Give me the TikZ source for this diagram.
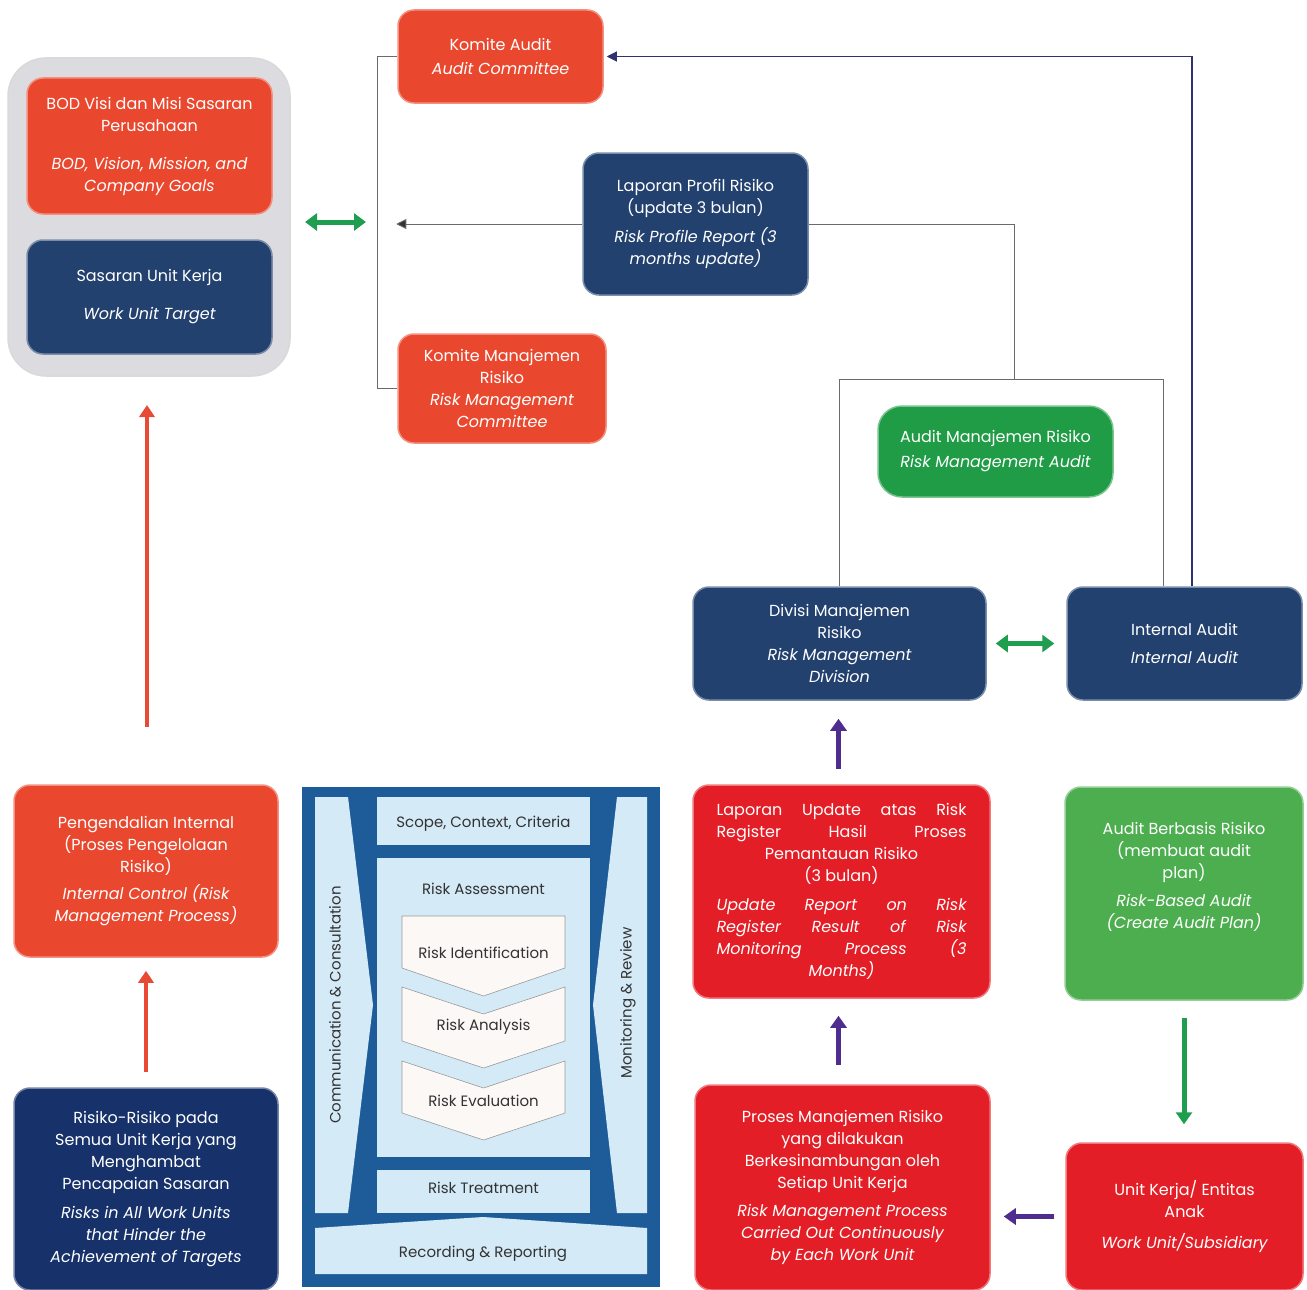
\documentclass[tikz,border=0pt]{standalone}
\usepackage{fontspec}
\setmainfont{Poppins}
\usetikzlibrary{arrows.meta,calc}
\definecolor{orng}{HTML}{E9482F}
\definecolor{brred}{HTML}{E41E26}
\definecolor{dblue}{HTML}{22416F}
\definecolor{navybox}{HTML}{17326A}
\definecolor{dgreen}{HTML}{1F9C45}
\definecolor{lgreen}{HTML}{4DAE50}
\definecolor{isoblue}{HTML}{1E5C99}
\definecolor{isolight}{HTML}{D4EAF7}
\definecolor{chevfill}{HTML}{FCF8F6}
\definecolor{purp}{HTML}{4F2D8F}
\definecolor{garrow}{HTML}{1E9E4E}
\definecolor{rarrow}{HTML}{E84A35}
\definecolor{navyline}{HTML}{303170}
\definecolor{conngray}{HTML}{6B6B6B}
\definecolor{greybg}{HTML}{DCDCE0}
\definecolor{isotxt}{HTML}{333333}
\newcommand{\engl}[1]{{\itshape #1}}
\begin{document}
\begin{tikzpicture}[x=1pt,y=-1pt,
  box/.style={rectangle, rounded corners=16pt, fill=#1, draw=#1!60!white, line width=1.5pt,
    text=white, align=center, inner sep=0pt, font=\fontsize{16}{22}\selectfont},
  conn/.style={draw=conngray, line width=0.9pt},
  navyarr/.style={draw=navyline, line width=1.1pt, -{Triangle[width=10pt,length=10pt]}},
  grayarr/.style={draw=conngray, line width=0.9pt, -{Triangle[width=10pt,length=10pt,fill=isotxt]}},
  dblarr/.style={draw=garrow, line width=5pt, {Triangle[width=17pt,length=12pt]}-{Triangle[width=17pt,length=12pt]}},
  redarr/.style={draw=rarrow, line width=4.5pt, -{Triangle[width=15pt,length=12pt]}},
  purarr/.style={draw=purp, line width=5pt, -{Triangle[width=16pt,length=12pt]}},
  grnarr/.style={draw=garrow, line width=5pt, -{Triangle[width=16pt,length=12pt]}},
  isotext/.style={text=isotxt, font=\fontsize{15}{17}\selectfont, inner sep=0pt},
  isoside/.style={text=isotxt, font=\fontsize{15}{17}\selectfont, inner sep=0pt, rotate=90},
  chev/.style={fill=chevfill, draw=gray!80, line width=0.6pt}
]
\useasboundingbox (0,0) rectangle (1307,1290);

% ---------- top-left group ----------
\node[rectangle, rounded corners=38pt, fill=greybg, draw=gray!30, line width=1.5pt,
  minimum width=282pt, minimum height=318pt] (bodgroup) at (149,217) {};
\node[box=orng, minimum width=245pt, minimum height=136pt] (bod) at (149.5,146)
  {BOD Visi dan Misi Sasaran\\Perusahaan\\[16pt]\engl{BOD, Vision, Mission, and}\\\engl{Company Goals}};
\node[box=dblue, minimum width=245pt, minimum height=114pt] (sasaran) at (149.5,297)
  {Sasaran Unit Kerja\\[16pt]\engl{Work Unit Target}};

% ---------- top committees ----------
\node[box=orng, minimum width=205pt, minimum height=93pt] (komiteaudit) at (500.5,56.5)
  {Komite Audit\\[2pt]\engl{Audit Committee}};
\node[box=dblue, minimum width=225pt, minimum height=142pt] (laporan) at (695.5,224)
  {Laporan Profil Risiko\\(update 3 bulan)\\[7pt]\engl{Risk Profile Report (3}\\\engl{months update)}};
\node[box=orng, minimum width=208pt, minimum height=109pt] (komitemr) at (502,388.5)
  {Komite Manajemen\\Risiko\\\engl{Risk Management}\\\engl{Committee}};

% ---------- audit / division ----------
\node[box=dgreen, rounded corners=24pt, minimum width=235pt, minimum height=91pt] (amr) at (995.5,451.5)
  {Audit Manajemen Risiko\\[3pt]\engl{Risk Management Audit}};
\node[box=dblue, minimum width=293pt, minimum height=113pt] (divisi) at (839.5,643.5)
  {Divisi Manajemen\\Risiko\\\engl{Risk Management}\\\engl{Division}};
\node[box=dblue, minimum width=235pt, minimum height=113pt] (ia) at (1184.5,643.5)
  {Internal Audit\\[6pt]\engl{Internal Audit}};

% ---------- left bottom ----------
\node[box=orng, minimum width=264pt, minimum height=172pt] (peng) at (146,871)
  {Pengendalian Internal\\(Proses Pengelolaan\\Risiko)\\[5pt]\engl{Internal Control (Risk}\\\engl{Management Process)}};
\node[box=navybox, minimum width=264pt, minimum height=202pt] (risiko) at (146,1189)
  {Risiko-Risiko pada\\Semua Unit Kerja yang\\Menghambat\\Pencapaian Sasaran\\[7pt]\engl{Risks in All Work Units}\\\engl{that Hinder the}\\\engl{Achievement of Targets}};

% ---------- right bottom ----------
\node[box=brred, minimum width=297pt, minimum height=213pt] (lapupd) at (841.5,891.5)
  {\makebox[250pt][s]{Laporan Update atas Risk}\\\makebox[250pt][s]{Register Hasil Proses}\\Pemantauan Risiko\\(3 bulan)\\[7pt]%
   \makebox[250pt][s]{\itshape Update Report on Risk}\\\makebox[250pt][s]{\itshape Register Result of Risk}\\\makebox[250pt][s]{\itshape Monitoring Process (3}\\\engl{Months)}};
\node[box=lgreen, minimum width=238pt, minimum height=213pt] (abr) at (1184,893.5)
  {Audit Berbasis Risiko\\(membuat audit\\plan)\\[6pt]\engl{Risk-Based Audit}\\\engl{(Create Audit Plan)}\\[14pt]};
\node[box=brred, minimum width=295pt, minimum height=205pt] (proses) at (842.5,1187.5)
  {Proses Manajemen Risiko\\yang dilakukan\\Berkesinambungan oleh\\Setiap Unit Kerja\\[6pt]\engl{Risk Management Process}\\\engl{Carried Out Continuously}\\\engl{by Each Work Unit}};
\node[box=brred, minimum width=237pt, minimum height=147pt] (unit) at (1184.5,1216.5)
  {Unit Kerja/ Entitas\\Anak\\[9pt]\engl{Work Unit/Subsidiary}};

% ---------- ISO 31000 process diagram ----------
\fill[isoblue] (302,787) rectangle (660,1287);
\fill[isolight] (315,797) -- (348,797) -- (373,1005) -- (348,1213) -- (315,1213) -- cycle;
\fill[isolight] (647,797) -- (617,797) -- (593,1005) -- (617,1213) -- (647,1213) -- cycle;
\fill[isolight] (377,797) rectangle (590,845);
\fill[isolight] (377,858) rectangle (590,1157);
\fill[isolight] (377,1170) rectangle (590,1213);
\fill[isolight] (315,1228) -- (483,1217) -- (647,1228) -- (647,1274) -- (315,1274) -- cycle;
\draw[chev] (402,916) -- (565,916) -- (565,968) -- (483.5,996) -- (402,968) -- cycle;
\draw[chev] (402,987) -- (483.5,1014) -- (565,987) -- (565,1041) -- (483.5,1068) -- (402,1041) -- cycle;
\draw[chev] (402,1061) -- (483.5,1088) -- (565,1061) -- (565,1113) -- (483.5,1140) -- (402,1113) -- cycle;
\node[isotext] (scope) at (483.5,824) {Scope, Context, Criteria};
\node[isotext] (rassess) at (483.5,889) {Risk Assessment};
\node[isotext] (rident) at (483.5,953) {Risk Identification};
\node[isotext] (ranal) at (483.5,1027) {Risk Analysis};
\node[isotext] (reval) at (483.5,1101) {Risk Evaluation};
\node[isotext] (rtreat) at (483.5,1188) {Risk Treatment};
\node[isotext] (rrec) at (483,1254) {Recording \& Reporting};
\node[isoside] (comm) at (335,1005) {Communication \& Consultation};
\node[isoside] (monit) at (628,1003) {Monitoring \& Review};

% ---------- connectors ----------
\draw[conn] (komiteaudit.west) -- ++(-20,0) |- (komitemr.west);
\draw[grayarr] (laporan.west) -- ++(-186,0);
\coordinate (hub) at (1014,379);
\draw[conn] (laporan.east) -| (hub);
\draw[conn] (divisi.north) |- ([xshift=-21.5]ia.north |- hub) -- ([xshift=-21.5]ia.north);
\draw[navyarr] ([xshift=7.5]ia.north) |- ([xshift=3]komiteaudit.east);

\coordinate (g1) at (305,222);
\coordinate (g2) at (366,222);
\draw[dblarr] (g1) -- (g2);
\draw[dblarr] ([xshift=9]divisi.east) -- ([xshift=-12]ia.west);

\coordinate (r1) at (147,727);
\coordinate (r2) at (147,405);
\draw[redarr] (r1) -- (r2);
\draw[redarr] ([yshift=15]risiko.north) -- ([yshift=-13]peng.south);

\draw[purarr] ([yshift=15,xshift=-3]lapupd.north) -- ([yshift=-18,xshift=-3]lapupd.north |- divisi.south);
\draw[purarr] ([yshift=19,xshift=-4]proses.north) -- ([yshift=-17,xshift=-4]proses.north |- lapupd.south);
\draw[purarr] ([xshift=-11]unit.west) -- ([xshift=13]proses.east |- unit.west);
\draw[grnarr] ([yshift=-17]abr.south) -- ([yshift=18]abr.south |- unit.north);
\end{tikzpicture}
\end{document}
